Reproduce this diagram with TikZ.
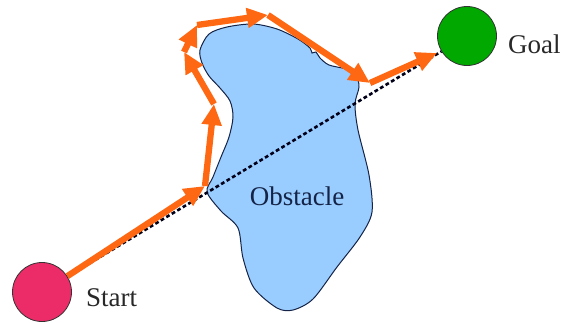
\documentclass[tikz,border=0pt]{standalone}
\usepackage{fontspec}
\setmainfont{Liberation Serif}
\usetikzlibrary{arrows.meta}
\definecolor{pathorange}{RGB}{255,104,18}
\definecolor{obsblue}{RGB}{153,204,255}
\definecolor{obsline}{RGB}{20,35,70}
\definecolor{startred}{RGB}{236,44,104}
\definecolor{goalgreen}{RGB}{0,168,0}
\definecolor{txtgray}{RGB}{40,40,40}
\tikzset{
  endpoint/.style={circle, draw=black!80, line width=0.8pt, minimum size=59pt, inner sep=0pt},
  lbl/.style={font=\fontsize{27}{30}\selectfont, text=txtgray, inner sep=0pt, anchor=base west},
  leg/.style={draw=pathorange, line width=6.3pt, -{Triangle[length=21pt,width=19pt]}},
  straight/.style={draw=black!90!blue, line width=2.6pt, dash pattern=on 3.8pt off 2.6pt}
}
\begin{document}
\begin{tikzpicture}[x=1pt,y=-1pt]
\useasboundingbox (0,0) rectangle (564,322);
% obstacle
\draw[obsline, fill=obsblue, line width=1pt] plot[smooth cycle, tension=0.5] coordinates {
 (253,24) (277,29) (298,39) (310,48) (312,53) (316,52) (320,58) (329,65) (346,69) (356,75)
 (359,87) (355,104) (358,130) (369,175) (372,212) (360,237) (337,267) (313,299) (293,310)
 (277,308) (254,288) (243,258) (238,228) (221,211) (207,192) (213,177) (221,157) (229,137)
 (233,117) (230,101) (220,88) (209,76) (202,63) (200,50) (209,34) (227,27)};
\node[font=\fontsize{27}{30}\selectfont, text=obsline, inner sep=0pt, anchor=base] (obs) at (297,205) {Obstacle};
% circles
\node[endpoint, fill=startred] (start) at (42,292) {};
\node[endpoint, fill=goalgreen] (goal) at (467,36) {};
\node[lbl] (startlbl) at (86,306) {Start};
\node[lbl] (goallbl) at (508,53) {Goal};
% straight line
\draw[straight] (start) -- (goal);
% path
\coordinate (p1) at (205,186);
\coordinate (p2) at (214,104);
\coordinate (p3) at (184,52);
\coordinate (p4) at (197,25);
\coordinate (p5) at (268,15);
\coordinate (p6) at (370,83);
\coordinate (p7) at (437,53);
\draw[leg] (start.32) -- (p1);
\draw[leg] (p1) -- (p2);
\draw[leg] (p2) -- (p3);
\draw[leg] (p3) -- (p4);
\draw[leg] (p4) -- (p5);
\draw[leg] (p5) -- (p6);
\draw[leg] (p6) -- (p7);
\end{tikzpicture}
\end{document}
